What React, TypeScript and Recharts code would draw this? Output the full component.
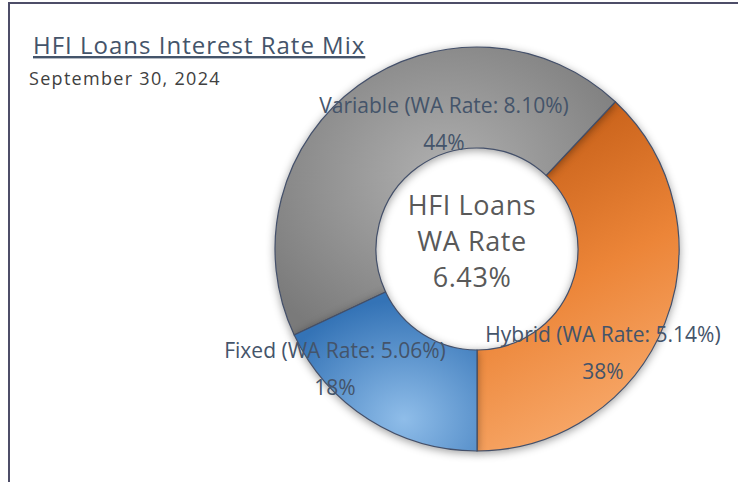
import React from "react";
import { PieChart, Pie, Cell } from "recharts";

// ---- data ----
const categories = ["Hybrid", "Variable", "Fixed"];
const shares = [38, 44, 18];
const waRates = ["5.14%", "8.10%", "5.06%"];
const titleText = "HFI Loans Interest Rate Mix";
const subtitleText = "September 30, 2024";
const centerLines = ["HFI Loans", "WA Rate", "6.43%"];

// ---- style / layout ----
const W = 738;
const H = 482;
const CX = 472;
const CY = 244;
const FONT = "'Open Sans', 'Noto Sans', sans-serif";
const LABEL_COLOR = "#44546a";
const gradIds = ["gHybrid", "gVariable", "gFixed"];
// label baseline offsets from the pie centre (name line; percent line is 37px below)
const labelOffsets: Record<string, { dx: number; dy: number }> = {
  Hybrid: { dx: 126, dy: 93 },
  Variable: { dx: -33, dy: -136 },
  Fixed: { dx: -142, dy: 109 },
};

const data = categories.map((c, i) => ({ name: c, value: shares[i], rate: waRates[i] }));

const renderLabel = (props: any) => {
  const { cx, cy, name, percent, payload } = props;
  const off = labelOffsets[name] || { dx: 0, dy: 0 };
  const rate = payload?.rate ?? payload?.payload?.rate;
  const x = cx + off.dx;
  const y = cy + off.dy;
  return (
    <g>
      <text x={x} y={y} textAnchor="middle" fill={LABEL_COLOR} fontSize={21} fontFamily={FONT}>
        {`${name} (WA Rate: ${rate})`}
      </text>
      <text x={x} y={y + 37} textAnchor="middle" fill={LABEL_COLOR} fontSize={21} fontFamily={FONT}>
        {`${Math.round(percent * 100)}%`}
      </text>
    </g>
  );
};

export default function App() {
  return (
    <div style={{ position: "absolute", left: 0, top: 0, width: W, height: H, background: "#fff", overflow: "hidden" }}>
      <style>{`.recharts-pie-sector { filter: drop-shadow(0px 2px 4px rgba(0,0,0,0.38)); }`}</style>
      <div
        style={{
          position: "absolute",
          left: 8,
          top: 2,
          width: W - 8,
          height: H - 2,
          borderTop: "2px solid #4d4d68",
          borderLeft: "2px solid #4d4d68",
          boxSizing: "border-box",
        }}
      />
      <div style={{ position: "absolute", left: 0, top: 0 }}>
        <PieChart width={W} height={H}>
          <defs>
            <radialGradient id="gVariable" cx="0.5" cy="0.45" r="0.65">
              <stop offset="0%" stopColor="#b0b0b0" />
              <stop offset="100%" stopColor="#7a7a7a" />
            </radialGradient>
            <linearGradient id="gHybrid" x1="0.2" y1="0" x2="0.5" y2="1">
              <stop offset="0%" stopColor="#bf5812" />
              <stop offset="55%" stopColor="#ec8538" />
              <stop offset="100%" stopColor="#f8aa6c" />
            </linearGradient>
            <radialGradient id="gFixed" cx="0.6" cy="0.8" r="0.75">
              <stop offset="0%" stopColor="#8fbde9" />
              <stop offset="100%" stopColor="#3473b6" />
            </radialGradient>
          </defs>
          <Pie
            data={data}
            dataKey="value"
            nameKey="name"
            cx={CX}
            cy={CY}
            innerRadius={101}
            outerRadius={202}
            startAngle={-90}
            endAngle={270}
            stroke="#44506a"
            strokeWidth={1.2}
            label={renderLabel}
            labelLine={false}
            isAnimationActive={false}
          >
            {data.map((d, i) => (
              <Cell key={d.name} fill={`url(#${gradIds[i]})`} />
            ))}
          </Pie>
        </PieChart>
      </div>
      <svg width={W} height={H} style={{ position: "absolute", left: 0, top: 0, pointerEvents: "none" }}>
        <text
          x={33}
          y={54}
          fontFamily={FONT}
          fontSize={24}
          letterSpacing={1}
          fill={LABEL_COLOR}
          style={{ textDecoration: "underline" }}
        >
          {titleText}
        </text>
        <text x={29} y={85} fontFamily={FONT} fontSize={18} letterSpacing={1.3} fill="#404040">
          {subtitleText}
        </text>
        {centerLines.map((t, i) => (
          <text
            key={t}
            x={CX}
            y={215 + i * 36}
            textAnchor="middle"
            fontFamily={FONT}
            fontSize={27}
            letterSpacing={0.6}
            fill="#595959"
          >
            {t}
          </text>
        ))}
      </svg>
    </div>
  );
}
